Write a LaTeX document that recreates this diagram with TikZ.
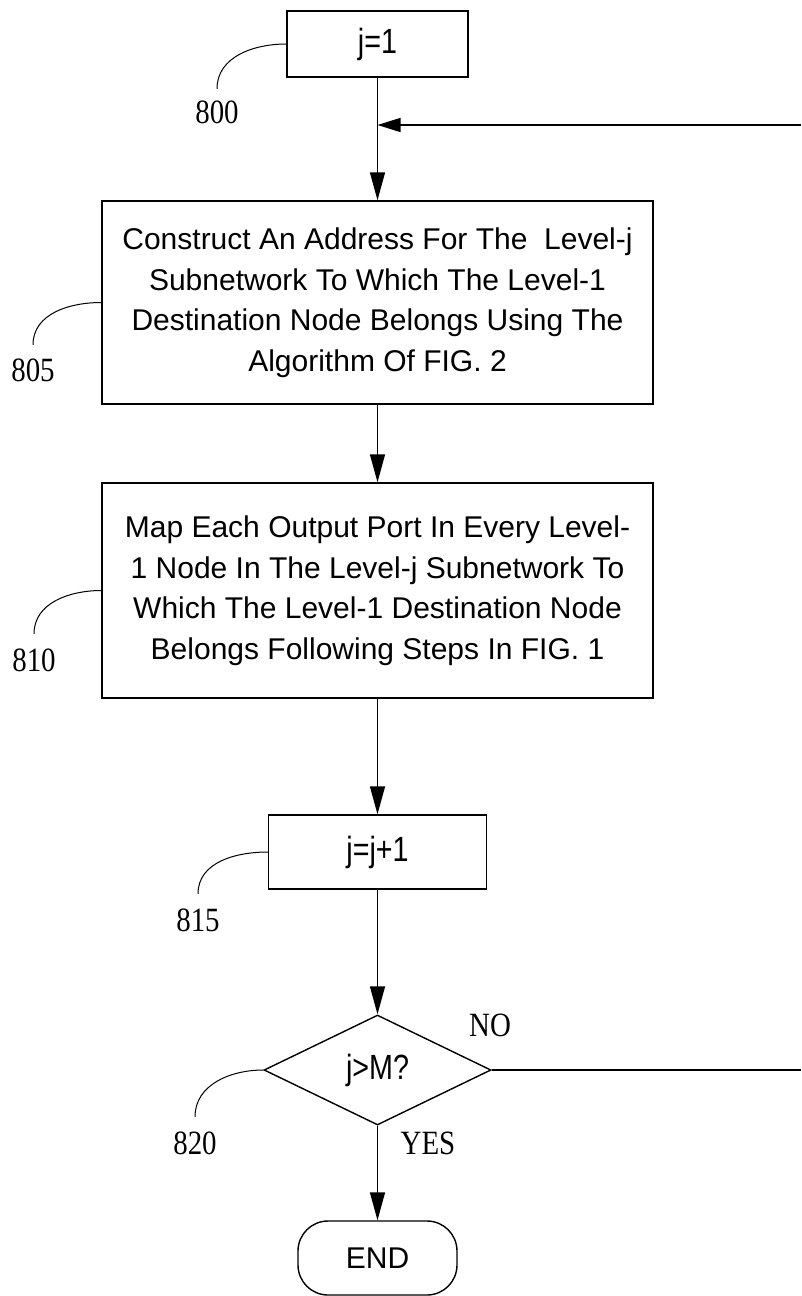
\documentclass[tikz,border=0pt]{standalone}
\usepackage{fontspec}
\setmainfont{Liberation Sans}
\newfontfamily\lblfont[FakeStretch=0.85]{Liberation Serif}
\newfontfamily\tallsans[FakeStretch=0.82]{Liberation Sans}
\usetikzlibrary{arrows.meta,shapes.geometric}
\begin{document}
\begin{tikzpicture}[x=1pt,y=-1pt,line width=1.4pt,
  proc/.style={draw, rectangle, inner sep=0pt, align=center, font=\fontsize{30}{40.5}\selectfont},
  small/.style={draw, rectangle, inner sep=0pt, font=\tallsans\fontsize{35}{40}\selectfont},
  decide/.style={draw, diamond, inner sep=0pt, font=\tallsans\fontsize{35}{40}\selectfont},
  term/.style={draw, rectangle, rounded corners=30pt, inner sep=0pt, font=\fontsize{30}{36}\selectfont},
  lbl/.style={inner sep=0pt, font=\lblfont\fontsize{34}{40}\selectfont},
  lead/.style={line width=1pt},
  flow/.style={-{Triangle[length=28pt,width=15pt]}},
  flowin/.style={-{Triangle[length=23pt,width=14pt]}}]
\useasboundingbox (0,0) rectangle (801,1296);

\node[small, minimum width=181pt, minimum height=66pt] (b800) at (377.5,44) {j=1};
\node[proc, minimum width=551pt, minimum height=203pt] (b805) at (377.5,302.5)
  {Construct An Address For The\ \ Level-j\\Subnetwork To Which The Level-1\\Destination Node Belongs Using The\\Algorithm Of FIG. 2};
\node[proc, minimum width=551pt, minimum height=215pt] (b810) at (377.5,590.5)
  {Map Each Output Port In Every Level-\\1 Node In The Level-j Subnetwork To\\Which The Level-1 Destination Node\\Belongs Following Steps In FIG. 1};
\node[small, minimum width=218pt, minimum height=74pt] (b815) at (377.5,852) {j=j+1};
\node[decide, minimum width=227pt, minimum height=110pt] (d820) at (377.5,1070) {j>M?};
\node[term, minimum width=159pt, minimum height=74pt] (end) at (377.5,1258) {END};

\node[lbl] (l800) at (217,112) {800};
\node[lbl] (l805) at (33,370) {805};
\node[lbl] (l810) at (34,660) {810};
\node[lbl] (l815) at (198,920) {815};
\node[lbl] (l820) at (195,1143) {820};
\node[lbl] (lno) at (490,1025) {NO};
\node[lbl] (lyes) at (428,1143) {YES};

\coordinate (rtop) at (801,125);
\coordinate (rbot) at (801,1070);

\draw[flow] (b800.south) -- (b805.north);
\draw[flowin] (rtop) -- (rtop -| b800.south);
\draw[flow] (b805.south) -- (b810.north);
\draw[flow] (b810.south) -- (b815.north);
\draw[flow] (b815.south) -- (d820.north);
\draw[flow] (d820.south) -- (end.north);
\draw (d820.east) -- (rbot);

\draw[lead] (b800.west) to[out=180,in=90] ([yshift=11pt]l800.north);
\draw[lead] (b805.west) to[out=180,in=90] ([yshift=13pt]l805.north);
\draw[lead] (b810.west) to[out=180,in=90] ([yshift=14pt]l810.north);
\draw[lead] (b815.west) to[out=180,in=90] ([yshift=14pt]l815.north);
\draw[lead] (d820.west) to[out=180,in=90] ([yshift=14pt]l820.north);
\end{tikzpicture}
\end{document}
